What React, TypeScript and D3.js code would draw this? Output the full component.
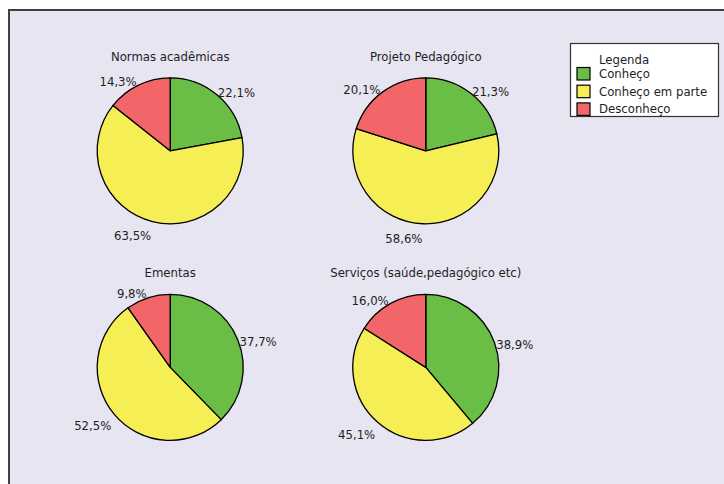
import React from "react";
import * as d3 from "d3";

const titles = [
  "Normas acadêmicas",
  "Projeto Pedagógico",
  "Ementas",
  "Serviços (saúde,pedagógico etc)",
];
const categories = ["Conheço", "Conheço em parte", "Desconheço"];
const conheco = [22.1, 21.3, 37.7, 38.9];
const conhecoEmParte = [63.5, 58.6, 52.5, 45.1];
const desconheco = [14.3, 20.1, 9.8, 16.0];
const legendTitle = "Legenda";

const colors = ["#6abd45", "#f5ee55", "#f2666a"];
const W = 724;
const H = 484;
const R = 73;
const FONT = "'DejaVu Sans Condensed', 'Liberation Sans', Arial, sans-serif";

const fmt = (v: number) => d3.format(".1f")(v).replace(".", ",") + "%";

export default function App() {
  const colX = d3.scaleLinear().domain([0, 1]).range([170.2, 425.8]);
  const rowY = d3.scaleLinear().domain([0, 1]).range([150.8, 367.4]);
  const pie = d3
    .pie<number>()
    .sort(null)
    .value((d) => d)
    .startAngle(0)
    .endAngle(2 * Math.PI);
  const arc = d3.arc<d3.PieArcDatum<number>>().innerRadius(0).outerRadius(R);

  const charts = titles.map((t, i) => ({
    title: t,
    values: [conheco[i], conhecoEmParte[i], desconheco[i]],
    cx: colX(i % 2),
    cy: rowY(Math.floor(i / 2)),
  }));

  const legY = d3.scaleLinear().domain([0, 1]).range([73.5, 91.2]);

  return (
    <div style={{ position: "fixed", left: 0, top: 0 }}>
      <svg width={W} height={H} style={{ display: "block" }}>
        <rect x={0} y={0} width={W} height={H} fill="#ffffff" />
        <rect
          x={9}
          y={10}
          width={W + 10}
          height={H + 10}
          fill="#e7e5f2"
          stroke="#3f3f44"
          strokeWidth={2}
        />
        {charts.map((c, ci) => {
          const arcs = pie(c.values);
          return (
            <g key={ci}>
              <text
                x={c.cx}
                y={c.cy - 94.7}
                textAnchor="middle"
                dominantBaseline="central"
                fontFamily={FONT}
                fontSize={13}
                fill="#1e1e1e"
              >
                {c.title}
              </text>
              <g transform={`translate(${c.cx},${c.cy})`}>
                {arcs.map((a, k) => (
                  <path
                    key={k}
                    d={arc(a) || ""}
                    fill={colors[k]}
                    stroke="#000"
                    strokeWidth={1.3}
                    strokeLinejoin="round"
                  />
                ))}
                {arcs.map((a, k) => {
                  const mid = (a.startAngle + a.endAngle) / 2;
                  const s = Math.sin(mid);
                  const co = Math.cos(mid);
                  const px = (R + 3) * s;
                  const py = -(R + 3) * co;
                  const dy = 5 - 6.5 * co;
                  return (
                    <text
                      key={"l" + k}
                      x={px + (s >= 0 ? -1 : -0.5)}
                      y={py + dy}
                      textAnchor={s >= 0 ? "start" : "end"}
                      dominantBaseline="central"
                      fontFamily={FONT}
                      fontSize={13}
                      fill="#1e1e1e"
                    >
                      {fmt(c.values[k])}
                    </text>
                  );
                })}
              </g>
            </g>
          );
        })}
        <g>
          <rect
            x={570.5}
            y={43.5}
            width={148}
            height={73}
            fill="#ffffff"
            stroke="#333"
            strokeWidth={1.2}
          />
          <text
            x={599}
            y={59}
            dominantBaseline="central"
            fontFamily={FONT}
            fontSize={13}
            fill="#1e1e1e"
          >
            {legendTitle}
          </text>
          {categories.map((cat, k) => {
            const y = legY(k);
            return (
              <g key={cat}>
                <rect
                  x={577}
                  y={y - 6}
                  width={13}
                  height={12.5}
                  fill={colors[k]}
                  stroke="#000"
                  strokeWidth={1.2}
                />
                <text
                  x={599}
                  y={y}
                  dominantBaseline="central"
                  fontFamily={FONT}
                  fontSize={13}
                  fill="#1e1e1e"
                >
                  {cat}
                </text>
              </g>
            );
          })}
        </g>
      </svg>
    </div>
  );
}
